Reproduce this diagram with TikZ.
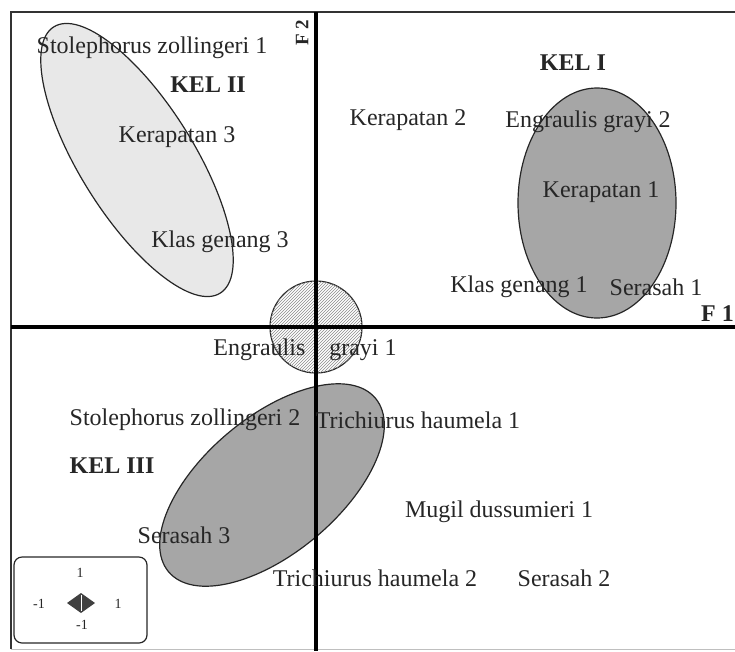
\documentclass[tikz,border=0pt]{standalone}
\usepackage{fontspec}
\setmainfont{Liberation Serif}
\usetikzlibrary{patterns}

\begin{document}
\begin{tikzpicture}[x=1pt,y=-1pt,
  lbl/.style={text=black!85,font=\fontsize{24}{27}\selectfont,inner sep=0pt},
  grp/.style={lbl,font=\fontsize{24}{27}\selectfont\bfseries},
  tick/.style={text=black!85,font=\fontsize{14}{16}\selectfont,inner sep=0pt},
  axis/.style={line width=4pt,black},
  clus/.style={draw=black!85,line width=1.2pt}]
\useasboundingbox (0,0) rectangle (735,651);
\clip (0,0) rectangle (735,651);
% The frame
\draw[line width=2pt,black!80] (11,649) -- (11,12) -- (740,12);
\draw[black!25] (11,649) -- (740,649);
% The groups
\draw[clus,fill=black!9,rotate around={-58:(137,160)}] (137,160) ellipse [x radius=157,y radius=57];
\draw[clus,fill=black!35] (597,203) ellipse [x radius=79,y radius=115];
\draw[clus,fill=black!35,rotate around={40:(272,485)}] (272,485) ellipse [x radius=135,y radius=68];
\draw[clus,fill=white] (316,327) circle [radius=46];
\fill[pattern=north east lines,pattern color=black!45] (316,327) circle [radius=46];
% The axes
\draw[axis] (316,12) -- (316,651);
\draw[axis] (11,327) -- (740,327);
\node[grp,font=\fontsize{19}{22}\selectfont\bfseries,rotate=90] (f2) at (302,33) {F 2};
\node[grp,anchor=east] (f1) at (734,314) {F 1};
% Upper left
\node[lbl] (stz1) at (152,48) {Stolephorus zollingeri 1};
\node[grp] (kel2) at (208,85) {KEL II};
\node[lbl] (ker3) at (177,137) {Kerapatan 3};
\node[lbl] (kla3) at (220,242) {Klas genang 3};
% Upper right
\node[grp] (kel1) at (573,63) {KEL I};
\node[lbl] (ker2) at (408,120) {Kerapatan 2};
\node[lbl] (eng2) at (588,122) {Engraulis grayi 2};
\node[lbl] (ker1) at (601,192) {Kerapatan 1};
\node[lbl] (kla1) at (519,287) {Klas genang 1};
\node[lbl] (ser1) at (656,287) {Serasah 1};
% Lower half
\node[lbl] (eng1) at (305,350) {Engraulis\quad grayi 1};
\node[lbl] (stz2) at (185,420) {Stolephorus zollingeri 2};
\node[lbl] (tri1) at (418,420) {Trichiurus haumela 1};
\node[grp] (kel3) at (112,466) {KEL III};
\node[lbl] (mug1) at (499,512) {Mugil dussumieri 1};
\node[lbl] (ser3) at (184,535) {Serasah 3};
\node[lbl] (tri2) at (375,578) {Trichiurus haumela 2};
\node[lbl] (ser2) at (564,578) {Serasah 2};
% The scale box
\node[draw=black!85,line width=1.2pt,rounded corners=8pt,minimum width=133pt,minimum height=86pt] (scale) at (80.5,600) {};
\fill[black!75] (67,603) -- (81,593) -- (95,603) -- (81,613) -- cycle;
\draw[white,line width=1pt] (81,595) -- (81,611);
\node[tick] (up) at (80,573) {1};
\node[tick] (lf) at (39,604) {-1};
\node[tick] (rt) at (118,604) {1};
\node[tick] (dn) at (82,625) {-1};
\end{tikzpicture}
\end{document}
